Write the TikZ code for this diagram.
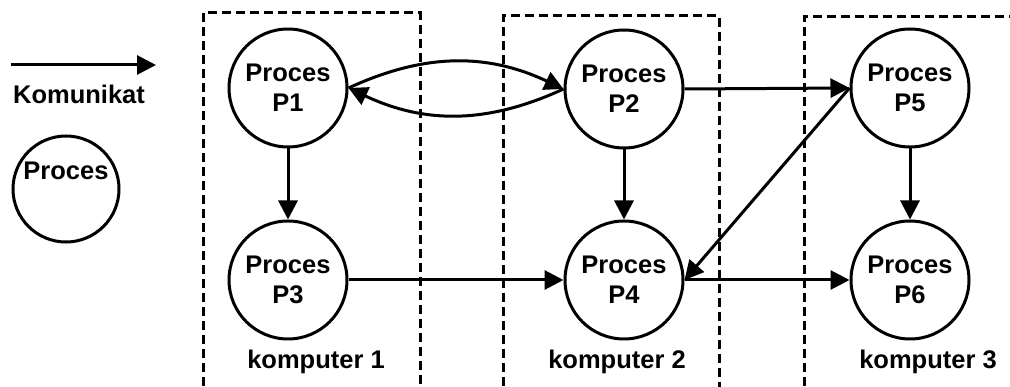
\documentclass[tikz,border=0pt]{standalone}
\usepackage{fontspec}
\setmainfont{Liberation Sans}
\usetikzlibrary{arrows.meta}
\begin{document}
\begin{tikzpicture}[x=1pt,y=-1pt,
  txt/.style={font=\bfseries\fontsize{25.5}{30}\selectfont},
  proc/.style={circle, draw, line width=3pt, minimum size=118pt, inner sep=0pt,
    align=center, txt},
  msg/.style={line width=3pt, -{Triangle[length=19pt,width=19pt]}},
  hostbox/.style={line width=3pt, dash pattern=on 9pt off 5pt}]
\useasboundingbox (0,0) rectangle (1010,387);
\clip (0,0) rectangle (1010,387);

% computers (dashed frames, open at the bottom)
\draw[hostbox] (203,400) -- (203,13) -- (420,13) -- (420,400);
\draw[hostbox] (503,400) -- (503,16) -- (719,16) -- (719,400);
\draw[hostbox] (804,400) -- (804,17) -- (1020,17);
\node[txt] (k1) at (316,362) {komputer 1};
\node[txt] (k2) at (617,362) {komputer 2};
\node[txt] (k3) at (928,362) {komputer 3};

% legend
\coordinate (la) at (11,65);
\coordinate (lb) at (156,65);
\draw[msg] (la) -- (lb);
\node[txt] (lk) at (79,94) {Komunikat};
\node[circle, draw, line width=3pt, minimum size=106pt, inner sep=0pt] (lc) at (66,189) {};
\node[txt] (lp) at (66,171) {Proces};

% processes
\node[proc] (P1) at (288,88) {Proces\\P1};
\node[proc] (P3) at (288,280) {Proces\\P3};
\node[proc] (P2) at (624,89) {Proces\\P2};
\node[proc] (P4) at (624,280) {Proces\\P4};
\node[proc] (P5) at (910,88) {Proces\\P5};
\node[proc] (P6) at (910,280) {Proces\\P6};

% messages
\draw[msg] (P1.east) to[bend left=25] (P2.west);
\draw[msg] (P2.west) to[bend left=25] (P1.east);
\draw[msg] (P2.east) -- (P5.west);
\draw[msg] (P5.west) -- (P4.east);
\draw[msg] (P3.east) -- (P4.west);
\draw[msg] (P4.east) -- (P6.west);
\draw[msg] (P1) -- (P3);
\draw[msg] (P2) -- (P4);
\draw[msg] (P5) -- (P6);
\end{tikzpicture}
\end{document}
